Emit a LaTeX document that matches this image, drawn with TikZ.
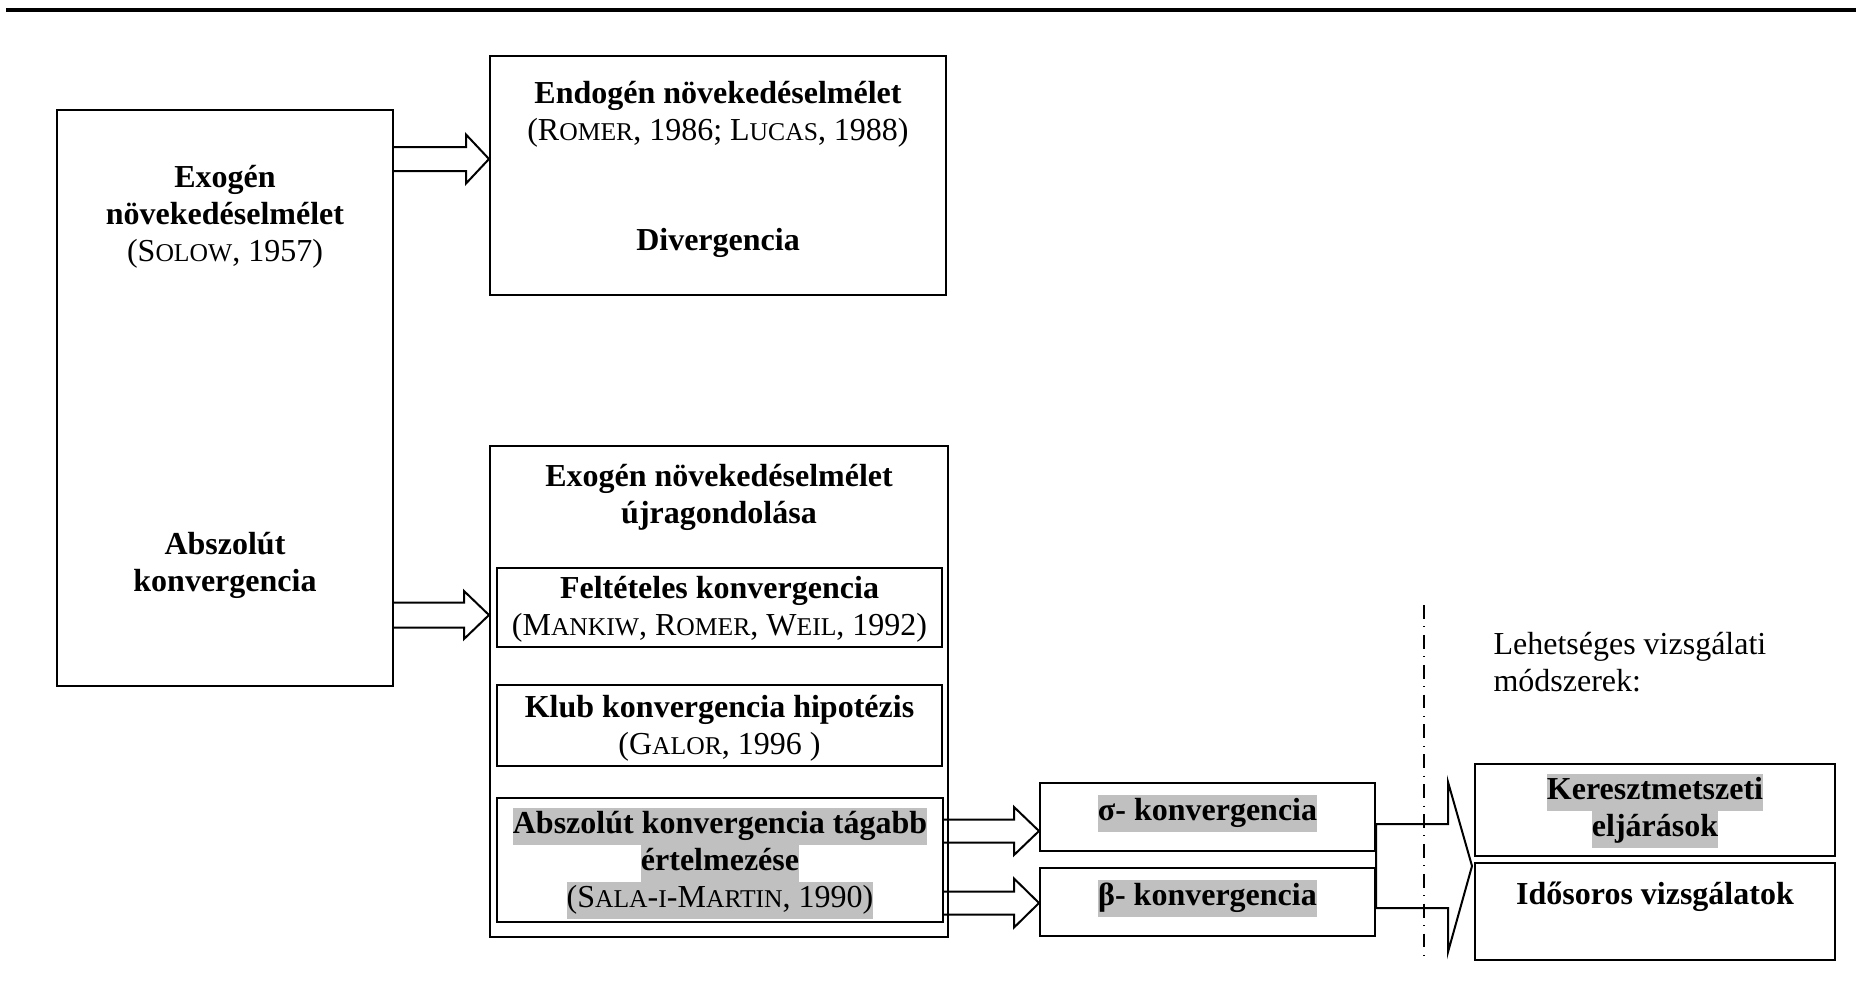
\documentclass[tikz,border=0pt]{standalone}
\usepackage{fontspec}
\setmainfont{Liberation Serif}
\usetikzlibrary{calc,fit}
\definecolor{hlgray}{RGB}{192,192,192}
\newcommand\sca[1]{{\fontsize{9.6}{10}\selectfont #1}}
\newcommand\hlt[1]{{\setlength\fboxsep{0pt}\colorbox{hlgray}{\strut#1}}}
\newcommand\barrow[5]{\draw[arrl] ($(#1)+(0,-#3)$) -- ($(#2)+(-#5,-#3)$) -- ($(#2)+(-#5,-#4)$) -- (#2) -- ($(#2)+(-#5,#4)$) -- ($(#2)+(-#5,#3)$) -- ($(#1)+(0,#3)$);}
\tikzset{
  box/.style={draw, line width=0.75pt, inner sep=0pt},
  arrl/.style={draw, line width=0.75pt, line join=miter},
  txt/.style={align=center, inner sep=0pt, font=\fontsize{12}{13.875}\selectfont},
  ddline/.style={line width=0.55pt, dash pattern=on 5.2pt off 2.8pt on 0.4pt off 2.8pt}
}
\begin{document}
\begin{tikzpicture}[x=0.375pt,y=-0.375pt]
\useasboundingbox (0,0) rectangle (1862,994);
% top rule
\draw[line width=1.5pt] (6,10) -- (1856,10);
% boxes
\node[box, fit={(57,110) (393,686)}] (exo) {};
\node[box, fit={(490,56) (946,295)}] (endo) {};
\node[box, fit={(490,446) (948,937)}] (reth) {};
\node[box, fit={(497,568) (942,647)}] (felt) {};
\node[box, fit={(497,685) (942,766)}] (klub) {};
\node[box, fit={(497,798) (943,922)}] (sala) {};
\node[box, fit={(1040,783) (1375,851)}] (sigma) {};
\node[box, fit={(1040,868) (1375,936)}] (beta) {};
\node[box, fit={(1475,764) (1835,856)}] (keresz) {};
\node[box, fit={(1475,863) (1835,960)}] (idos) {};
% texts
\node[txt] (exoA) at (225,217) {\strut\textbf{Exogén}\\\strut\textbf{növekedéselmélet}\\\strut(S\sca{OLOW}, 1957)};
\node[txt] (exoB) at (225,566) {\strut\textbf{Abszolút}\\\strut\textbf{konvergencia}};
\node[txt] (endoA) at (718,115) {\strut\textbf{Endogén növekedéselmélet}\\\strut(R\sca{OMER}, 1986; L\sca{UCAS}, 1988)};
\node[txt] (endoB) at (718,243) {\strut\textbf{Divergencia}};
\node[txt] (rethT) at (719,498) {\strut\textbf{Exogén növekedéselmélet}\\\strut\textbf{újragondolása}};
\node[txt] (feltT) at (719.5,610) {\strut\textbf{Feltételes konvergencia}\\\strut(M\sca{ANKIW}, R\sca{OMER}, W\sca{EIL}, 1992)};
\node[txt] (klubT) at (719.5,729) {\strut\textbf{Klub konvergencia hipotézis}\\\strut(G\sca{ALOR}, 1996 )};
\node[txt] (salaT) at (720,863) {\hlt{\textbf{Abszolút konvergencia tágabb}}\\\hlt{\textbf{értelmezése}}\\\hlt{(S\sca{ALA}-\sca{I}-M\sca{ARTIN}, 1990)}};
\node[txt] (sigmaT) at (1207.5,813) {\hlt{\textbf{σ- konvergencia}}};
\node[txt] (betaT) at (1207.5,898) {\hlt{\textbf{β- konvergencia}}};
\node[txt] (kereszT) at (1655,811) {\hlt{\textbf{Keresztmetszeti}}\\\hlt{\textbf{eljárások}}};
\node[txt] (idosT) at (1655,897) {\strut\textbf{Idősoros vizsgálatok}};
\node[txt, align=left, anchor=west] (lehet) at (1493,666) {\strut Lehetséges vizsgálati\\\strut módszerek:};
% block arrows
\coordinate (ya1) at (0,159);
\coordinate (ya2) at (0,615);
\coordinate (ys) at (0,831);
\coordinate (yb) at (0,903);
\barrow{exo.east |- ya1}{endo.west |- ya1}{12}{24.5}{23}
\barrow{exo.east |- ya2}{reth.west |- ya2}{12.5}{24}{25}
\barrow{sala.east |- ys}{sigma.west |- ys}{11.5}{24}{25}
\barrow{sala.east |- yb}{beta.west |- yb}{11.5}{24.5}{25}
% bracket arrow
\coordinate (yk1) at (0,824);
\coordinate (yk2) at (0,908);
\coordinate (tipk) at (1472,866);
\draw[arrl] (sigma.east |- yk1) -- (1448,824) -- (1448,782) -- (tipk) -- (1448,952) -- (1448,908) -- (beta.east |- yk2) -- cycle;
% dash-dot separator
\draw[ddline] (1424,605) -- (1424,958);
\end{tikzpicture}
\end{document}
